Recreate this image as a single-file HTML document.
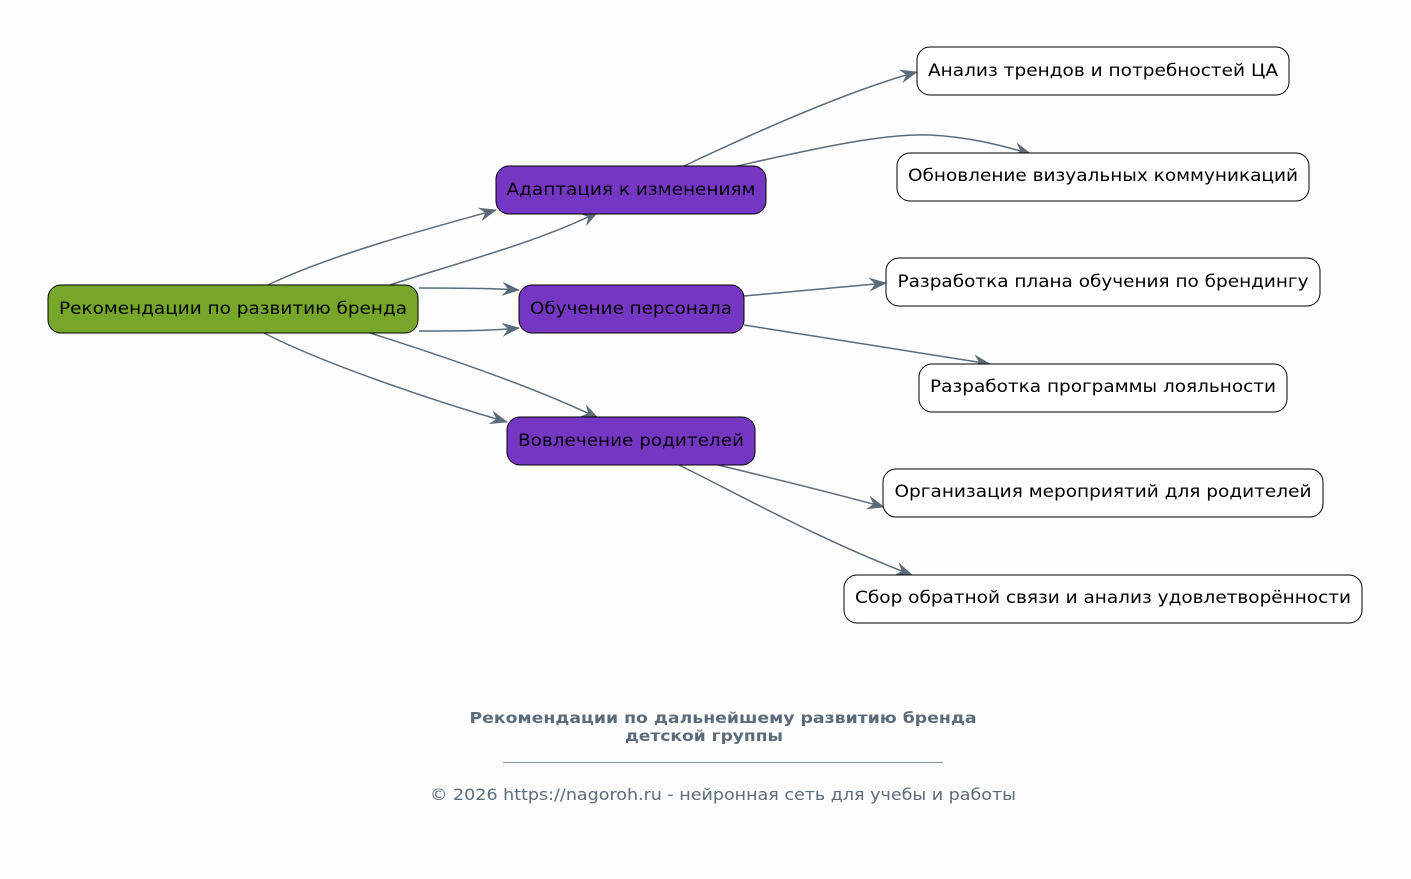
<!DOCTYPE html>
<html><head><meta charset="utf-8"><style>
html,body{margin:0;padding:0;background:#fdfdfd;}
svg{display:block;}
text{font-family:"DejaVu Sans","Liberation Sans",sans-serif;}
</style></head><body>
<svg width="1411" height="879" viewBox="0 0 1411 879" xmlns="http://www.w3.org/2000/svg">
<defs>
<marker id="a" viewBox="0 0 18 14" refX="17" refY="7" markerWidth="18" markerHeight="14" markerUnits="userSpaceOnUse" orient="auto">
<path d="M0,0 L18,7 L0,14 L6,7 z" fill="#5c6b7a"/>
</marker>
</defs>
<rect width="1411" height="879" fill="#fdfdfd"/>
<g fill="none" stroke="#5c6b7a" stroke-width="1.5" marker-end="url(#a)">
<path d="M268,285 C330,255 430,228 496,210"/>
<path d="M390,285 C450,265 540,242 598,212"/>
<path d="M419,288 C450,288 490,288 519,290"/>
<path d="M419,331 C450,331 490,331 519,328"/>
<path d="M264,333 C320,362 430,400 507,422"/>
<path d="M370,333 C430,352 530,385 598,418"/>
<path d="M684,166 C760,130 850,90 917,72"/>
<path d="M737,166 C800,152 880,133 930,135 C970,137 1000,145 1031,154"/>
<path d="M744,296 L886,283"/>
<path d="M744,325 L990,364"/>
<path d="M718,465 C780,480 840,495 884,507"/>
<path d="M679,465 C740,495 820,540 912,575"/>
</g>
<g stroke="#000" stroke-width="1">
<rect x="48" y="285" width="370" height="48" rx="13" fill="#76a72a"/>
<rect x="496" y="166" width="270" height="48" rx="13" fill="#7636c4"/>
<rect x="519" y="285" width="225" height="48" rx="13" fill="#7636c4"/>
<rect x="507" y="417" width="248" height="48" rx="13" fill="#7636c4"/>
<rect x="917" y="47" width="372" height="48" rx="13" fill="#fff"/>
<rect x="897" y="153" width="412" height="48" rx="13" fill="#fff"/>
<rect x="886" y="258" width="434" height="48" rx="13" fill="#fff"/>
<rect x="919" y="364" width="368" height="48" rx="13" fill="#fff"/>
<rect x="883" y="469" width="440" height="48" rx="13" fill="#fff"/>
<rect x="844" y="575" width="518" height="48" rx="13" fill="#fff"/>
</g>
<g font-size="17" fill="#000" text-anchor="middle">
<text x="233" y="314" textLength="348" lengthAdjust="spacingAndGlyphs">Рекомендации по развитию бренда</text>
<text x="631" y="195" textLength="249" lengthAdjust="spacingAndGlyphs">Адаптация к изменениям</text>
<text x="631" y="314" textLength="202" lengthAdjust="spacingAndGlyphs">Обучение персонала</text>
<text x="631" y="446" textLength="226" lengthAdjust="spacingAndGlyphs">Вовлечение родителей</text>
<text x="1103" y="76" textLength="350" lengthAdjust="spacingAndGlyphs">Анализ трендов и потребностей ЦА</text>
<text x="1103" y="181" textLength="390" lengthAdjust="spacingAndGlyphs">Обновление визуальных коммуникаций</text>
<text x="1103" y="287" textLength="411" lengthAdjust="spacingAndGlyphs">Разработка плана обучения по брендингу</text>
<text x="1103" y="392" textLength="346" lengthAdjust="spacingAndGlyphs">Разработка программы лояльности</text>
<text x="1103" y="497" textLength="417" lengthAdjust="spacingAndGlyphs">Организация мероприятий для родителей</text>
<text x="1103" y="603" textLength="496" lengthAdjust="spacingAndGlyphs">Сбор обратной связи и анализ удовлетворённости</text>
</g>
<g fill="#5c6b7a" text-anchor="middle">
<text x="723" y="723" font-size="15" font-weight="bold" textLength="507" lengthAdjust="spacingAndGlyphs">Рекомендации по дальнейшему развитию бренда</text>
<text x="704" y="741" font-size="15" font-weight="bold" textLength="158" lengthAdjust="spacingAndGlyphs">детской группы</text>
<line x1="503" y1="762.5" x2="943" y2="762.5" stroke="#5c6b7a" stroke-width="0.8"/>
<text x="723" y="800" font-size="16" textLength="586" lengthAdjust="spacingAndGlyphs">© 2026 https://nagoroh.ru - нейронная сеть для учебы и работы</text>
</g>
</svg>
</body></html>
